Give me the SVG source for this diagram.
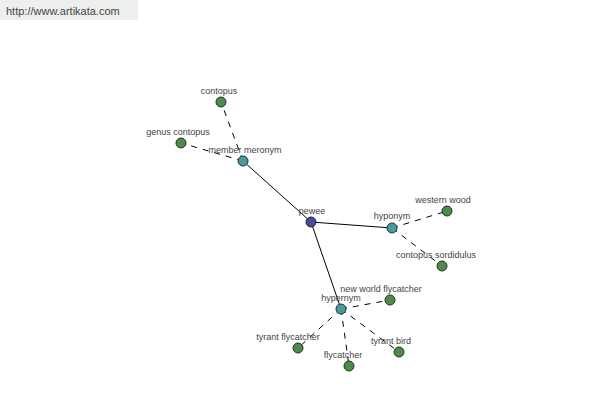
<svg xmlns="http://www.w3.org/2000/svg" width="600" height="400" viewBox="0 0 600 400">
<style>
text{font-family:"Liberation Sans",Arial,sans-serif;font-size:9px;fill:#444;text-anchor:middle}
.leaf{fill:#4e8a4a;stroke:#223322;stroke-width:1}
.hub{fill:#4a9a9c;stroke:#223333;stroke-width:1}
.root{fill:#4a4a96;stroke:#222233;stroke-width:1}
.solid{stroke:#000;stroke-width:1;fill:none}
.dash{stroke:#000;stroke-width:1;fill:none;stroke-dasharray:6 6}
</style>
<rect x="0" y="0" width="138" height="20" fill="#eeeeee"/>
<text x="6" y="15" style="text-anchor:start;font-size:11px;fill:#3a4a3a">http://www.artikata.com</text>
<g id="connectors">
<line class="solid" x1="311" y1="222" x2="243" y2="161"/>
<line class="solid" x1="311" y1="222" x2="392" y2="228"/>
<line class="solid" x1="311" y1="222" x2="341" y2="309"/>
<line class="dash" x1="243" y1="161" x2="221" y2="102"/>
<line class="dash" x1="243" y1="161" x2="181" y2="143"/>
<line class="dash" x1="392" y1="228" x2="447" y2="211"/>
<line class="dash" x1="392" y1="228" x2="442" y2="266"/>
<line class="dash" x1="341" y1="309" x2="390" y2="300"/>
<line class="dash" x1="341" y1="309" x2="298" y2="348"/>
<line class="dash" x1="341" y1="309" x2="349" y2="366"/>
<line class="dash" x1="341" y1="309" x2="399" y2="352"/>
</g>
<g id="contopus"><circle class="leaf" cx="221" cy="102" r="5"/><text x="219" y="94">contopus</text></g>
<g id="genus-contopus"><circle class="leaf" cx="181" cy="143" r="5"/><text x="178" y="135">genus contopus</text></g>
<g id="western-wood"><circle class="leaf" cx="447" cy="211" r="5"/><text x="443" y="203">western wood</text></g>
<g id="contopus-sordidulus"><circle class="leaf" cx="442" cy="266" r="5"/><text x="436" y="258">contopus sordidulus</text></g>
<g id="new-world-flycatcher"><circle class="leaf" cx="390" cy="300" r="5"/><text x="381" y="292">new world flycatcher</text></g>
<g id="tyrant-flycatcher"><circle class="leaf" cx="298" cy="348" r="5"/><text x="288" y="340">tyrant flycatcher</text></g>
<g id="flycatcher"><circle class="leaf" cx="349" cy="366" r="5"/><text x="343" y="358">flycatcher</text></g>
<g id="tyrant-bird"><circle class="leaf" cx="399" cy="352" r="5"/><text x="391" y="344">tyrant bird</text></g>
<g id="member-meronym"><circle class="hub" cx="243" cy="161" r="5"/><text x="245" y="153">member meronym</text></g>
<g id="hyponym"><circle class="hub" cx="392" cy="228" r="5"/><text x="392" y="219">hyponym</text></g>
<g id="hypernym"><circle class="hub" cx="341" cy="309" r="5"/><text x="341" y="301">hypernym</text></g>
<g id="pewee"><circle class="root" cx="311" cy="222" r="5"/><text x="312" y="214">pewee</text></g>
</svg>
